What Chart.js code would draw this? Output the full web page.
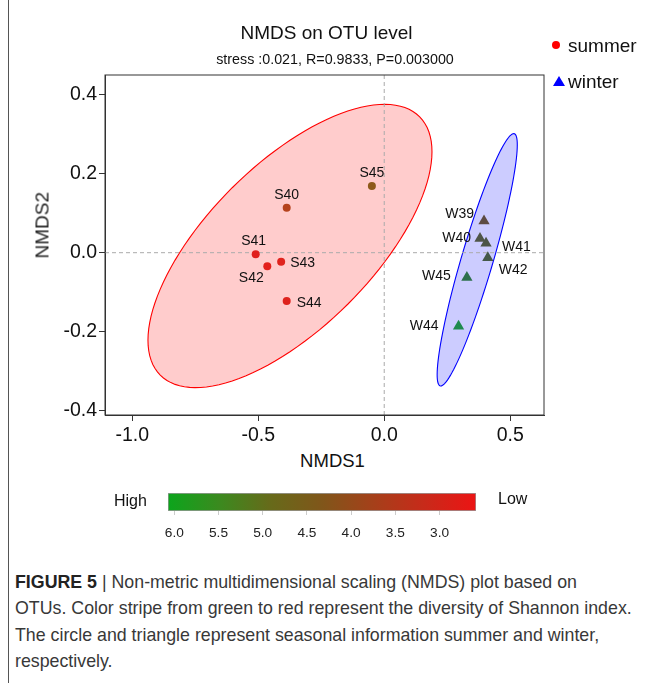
<!DOCTYPE html>
<html>
<head>
<meta charset="utf-8">
<script src="https://cdn.jsdelivr.net/npm/chart.js@4.4.1/dist/chart.umd.min.js"></script>
<style>
  body { margin: 0; background: #fff; font-family: "Liberation Sans", Arial, sans-serif; }
  #page { position: relative; width: 660px; height: 683px; overflow: hidden; }
  .txt { position: absolute; white-space: nowrap; color: #111; line-height: 1; }
  #frame { position: absolute; left: 8px; top: 0; width: 1px; height: 683px; background: #555; }
  #caption { position: absolute; left: 15px; top: 569px; width: 645px; font-size: 17.8px; line-height: 26.3px; color: #383838; white-space: nowrap; }
</style>
</head>
<body>
<div id="page">
  <div id="frame"></div>
  <canvas id="nmds" width="660" height="450" style="position:absolute;left:0;top:0"></canvas>
  <canvas id="bar" width="660" height="70" style="position:absolute;left:0;top:480px"></canvas>

  <div class="txt" style="left:0;width:653px;text-align:center;top:23px;font-size:19px">NMDS on OTU level</div>
  <div class="txt" style="left:0;width:670px;text-align:center;top:52px;font-size:14.3px">stress :0.021, R=0.9833, P=0.003000</div>
  <div class="txt" style="left:0;width:665px;text-align:center;top:452px;font-size:18.5px">NMDS1</div>
  <div class="txt" style="left:9px;top:216px;width:66px;text-align:center;font-size:19px;color:#222;transform:rotate(-90deg)">NMDS2</div>

  <div class="txt" style="left:568px;top:36px;font-size:19px">summer</div>
  <div class="txt" style="left:568px;top:72px;font-size:19px">winter</div>
  <div style="position:absolute;left:552px;top:41px;width:8px;height:8px;border-radius:50%;background:#ff0000"></div>
  <div style="position:absolute;left:553px;top:76px;width:0;height:0;border-left:6px solid transparent;border-right:6px solid transparent;border-bottom:10px solid #0000ff"></div>

  <div class="txt" style="left:114px;top:493px;font-size:16px">High</div>
  <div class="txt" style="left:498px;top:491px;font-size:16px">Low</div>

  <div id="caption"><b style="font-weight:bold;color:#222">FIGURE 5</b> | Non-metric multidimensional scaling (NMDS) plot based on<br>OTUs. Color stripe from green to red represent the diversity of Shannon index.<br>The circle and triangle represent seasonal information summer and winter,<br>respectively.</div>
</div>

<script>
// samples and NMDS scores
const summerNames = ['S40', 'S41', 'S42', 'S43', 'S44', 'S45']
const summerX = [-0.387, -0.510, -0.464, -0.409, -0.387, -0.049]
const summerY = [0.114, -0.004, -0.034, -0.023, -0.122, 0.169]
const winterNames = ['W39', 'W40', 'W41', 'W42', 'W44', 'W45']
const winterX = [0.396, 0.380, 0.404, 0.411, 0.295, 0.328]
const winterY = [0.080, 0.036, 0.024, -0.013, -0.186, -0.063]

// confidence ellipses: centre, half width, half height, y offset of the rightmost point
const ellipseCx = [-0.374, 0.369]
const ellipseCy = [0.017, -0.018]
const ellipseRx = [0.5635, 0.159]
const ellipseRy = [0.3587, 0.3195]
const ellipseK = [0.2387, 0.291]

const xTicks = [-1.0, -0.5, 0.0, 0.5]
const yTicks = [-0.4, -0.2, 0.0, 0.2, 0.4]
const shannonTicks = [6.0, 5.5, 5.0, 4.5, 4.0, 3.5, 3.0]
const shannonRange = [2.588, 6.071]

// colours by Shannon index
const summerColors = ['#b5421c', '#e01f1d', '#e3201c', '#e0231d', '#de221d', '#8e5a1b']
const winterColors = ['#5d4b43', '#4f5548', '#4b5447', '#445849', '#1f8a4e', '#2d6f4c']
const gradientStops = ['#0ca51c', '#3b8a1f', '#676a1a', '#80561a', '#a5401a', '#c82a1a', '#ec1414']

const labelOffsets = {
  S40: [0, -13, 'center'], S41: [-2, -13, 'center'], S42: [-16, 12, 'center'],
  S43: [9, 1, 'left'], S44: [10, 2, 'left'], S45: [0, -13, 'center'],
  W39: [-10, -7, 'right'], W40: [-9, 0, 'right'], W41: [16, 4, 'left'],
  W42: [11, 12, 'left'], W44: [-20, 0, 'right'], W45: [-16, -1, 'right']
}

const toPoints = (xs, ys) => xs.map((x, i) => ({ x: x, y: ys[i] }))

const ellipsePlugin = {
  id: 'ellipses',
  beforeDatasetsDraw (chart) {
    const { ctx, scales: { x, y }, chartArea } = chart
    const fills = ['rgba(255,0,0,0.2)', 'rgba(0,0,255,0.2)']
    const strokes = ['#ff0000', '#0000ff']
    ctx.save()
    ctx.beginPath()
    ctx.rect(chartArea.left, chartArea.top, chartArea.width, chartArea.height)
    ctx.clip()
    ellipseCx.forEach((cx, e) => {
      const vy = Math.sqrt(ellipseRy[e] ** 2 - ellipseK[e] ** 2)
      ctx.beginPath()
      for (let i = 0; i <= 120; i++) {
        const t = i / 120 * Math.PI * 2
        const px = x.getPixelForValue(cx + ellipseRx[e] * Math.cos(t))
        const py = y.getPixelForValue(ellipseCy[e] + ellipseK[e] * Math.cos(t) + vy * Math.sin(t))
        if (i === 0) ctx.moveTo(px, py)
        else ctx.lineTo(px, py)
      }
      ctx.closePath()
      ctx.fillStyle = fills[e]
      ctx.fill()
      ctx.lineWidth = 1.1
      ctx.strokeStyle = strokes[e]
      ctx.stroke()
    })
    // dashed zero lines
    ctx.setLineDash([4, 3])
    ctx.strokeStyle = '#aaa'
    ctx.lineWidth = 1
    const x0 = x.getPixelForValue(0)
    const y0 = y.getPixelForValue(0)
    ctx.beginPath()
    ctx.moveTo(x0, chartArea.top); ctx.lineTo(x0, chartArea.bottom)
    ctx.moveTo(chartArea.left, y0); ctx.lineTo(chartArea.right, y0)
    ctx.stroke()
    ctx.restore()
  },
  afterDatasetsDraw (chart) {
    const { ctx, chartArea } = chart
    ctx.save()
    ctx.font = '14px "Liberation Sans", Arial, sans-serif'
    ctx.fillStyle = '#111'
    ctx.textBaseline = 'middle'
    const names = [summerNames, winterNames]
    names.forEach((list, d) => {
      chart.getDatasetMeta(d).data.forEach((pt, i) => {
        const off = labelOffsets[list[i]]
        ctx.textAlign = off[2]
        ctx.fillText(list[i], pt.x + off[0], pt.y + off[1])
      })
    })
    ctx.strokeStyle = '#333'
    ctx.lineWidth = 1
    ctx.strokeRect(chartArea.left, chartArea.top, chartArea.width, chartArea.height)
    ctx.restore()
  }
}

const tickFont = { family: '"Liberation Sans", Arial, sans-serif', size: 19.5 }

new Chart(document.getElementById('nmds').getContext('2d'), {
  type: 'scatter',
  data: {
    datasets: [
      {
        label: 'summer',
        data: toPoints(summerX, summerY),
        pointStyle: 'circle',
        pointRadius: 4,
        backgroundColor: summerColors,
        borderColor: summerColors,
        borderWidth: 0
      },
      {
        label: 'winter',
        data: toPoints(winterX, winterY),
        pointStyle: 'triangle',
        pointRadius: 6.5,
        backgroundColor: winterColors,
        borderColor: winterColors,
        borderWidth: 0
      }
    ]
  },
  options: {
    responsive: false,
    animation: false,
    events: [],
    layout: { padding: { top: 75, right: 116, left: 0, bottom: 0 } },
    plugins: { legend: { display: false }, tooltip: { enabled: false } },
    scales: {
      x: {
        min: -1.108,
        max: 0.634,
        afterBuildTicks: s => { s.ticks = xTicks.map(v => ({ value: v })) },
        afterFit: s => { s.height = 35 },
        ticks: { font: tickFont, color: '#111', padding: 3, maxRotation: 0, callback: v => v.toFixed(1) },
        grid: { drawOnChartArea: false, tickLength: 6, tickColor: '#333' },
        border: { color: '#333' }
      },
      y: {
        min: -0.411,
        max: 0.45,
        afterBuildTicks: s => { s.ticks = yTicks.map(v => ({ value: v })) },
        afterFit: s => { s.width = 105 },
        ticks: { font: tickFont, color: '#111', padding: 2, callback: v => v.toFixed(1) },
        grid: { drawOnChartArea: false, tickLength: 6, tickColor: '#333' },
        border: { color: '#333' }
      }
    }
  },
  plugins: [ellipsePlugin]
})

// colour stripe for Shannon index
new Chart(document.getElementById('bar').getContext('2d'), {
  type: 'bar',
  data: {
    labels: ['Shannon'],
    datasets: [{
      data: [shannonRange],
      backgroundColor: ctx => {
        const a = ctx.chart.chartArea
        if (!a) return '#888'
        const g = ctx.chart.ctx.createLinearGradient(a.left, 0, a.right, 0)
        gradientStops.forEach((c, i) => g.addColorStop(i / (gradientStops.length - 1), c))
        return g
      },
      borderColor: '#9a9a9a',
      borderWidth: 1,
      borderSkipped: false,
      barPercentage: 1,
      categoryPercentage: 1
    }]
  },
  options: {
    indexAxis: 'y',
    responsive: false,
    animation: false,
    events: [],
    layout: { padding: { top: 13, right: 184, left: 168, bottom: 0 } },
    plugins: { legend: { display: false }, tooltip: { enabled: false } },
    scales: {
      x: {
        reverse: true,
        min: shannonRange[0],
        max: shannonRange[1],
        afterBuildTicks: s => { s.ticks = shannonTicks.map(v => ({ value: v })) },
        afterFit: s => { s.height = 39 },
        ticks: { font: { family: '"Liberation Sans", Arial, sans-serif', size: 13.7 }, color: '#222', padding: 10, maxRotation: 0, callback: v => v.toFixed(1) },
        grid: { drawOnChartArea: false, tickLength: 4, tickColor: '#ccc' },
        border: { display: false }
      },
      y: { display: false }
    }
  }
})
</script>
</body>
</html>
